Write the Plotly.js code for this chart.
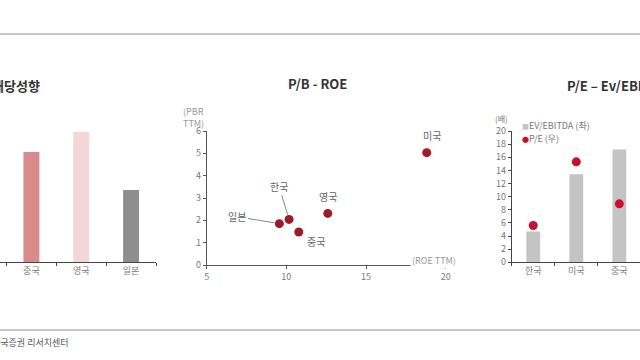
<!DOCTYPE html>
<html>
<head>
<meta charset="utf-8">
<script src="https://cdn.plot.ly/plotly-3.0.1.min.js"></script>
<style>html,body{margin:0;padding:0;background:#fff;}#chart{width:640px;height:360px;}</style>
</head>
<body>
<div id="chart"></div>
<script>
// ---- data ----
const allCountries = ['한국', '미국', '중국', '영국', '일본'];

// Left panel: 배당성향 (only partly visible)
const payoutCats = ['중국', '영국', '일본'];
const payoutVals = [36.7, 43.3, 24.0];
const payoutColors = ['#d98b8c', '#f3d6d6', '#8e8e8e'];

// Middle panel: P/B - ROE
const pbCountries = ['일본', '한국', '중국', '영국', '미국'];
const roeTTM = [9.56, 10.17, 10.78, 12.6, 18.81];
const pbrTTM = [1.85, 2.04, 1.48, 2.31, 5.03];

// Right panel: P/E - EV/EBITDA (only partly visible)
const valCats = ['한국', '미국', '중국'];
const evEbitda = [4.7, 13.4, 17.2];
const peVals = [5.6, 15.3, 8.9];

const W = 640, H = 360;
const px = v => v / W;
const py = v => 1 - v / H;

const gray = '#777';
const fontFam = '"Noto Sans CJK KR", "Noto Sans", sans-serif';

const traces = [
  {type: 'bar', x: payoutCats, y: payoutVals, marker: {color: payoutColors}, width: 0.32,
   xaxis: 'x', yaxis: 'y', showlegend: false, hoverinfo: 'x+y'},
  {type: 'scatter', mode: 'markers', x: roeTTM, y: pbrTTM, text: pbCountries,
   marker: {color: '#9e1c26', size: 9}, xaxis: 'x2', yaxis: 'y2', showlegend: false},
  {type: 'bar', name: 'EV/EBITDA (좌)', x: valCats, y: evEbitda, marker: {color: '#c4c4c4'}, width: 0.32,
   xaxis: 'x3', yaxis: 'y3', showlegend: false},
  {type: 'scatter', mode: 'markers', name: 'P/E (우)', x: valCats, y: peVals,
   marker: {color: '#c8102e', size: 9}, xaxis: 'x3', yaxis: 'y4', showlegend: false}
];

const tickFont = {family: fontFam, size: 9, color: gray};
const catAxis = {
  type: 'category', categoryorder: 'array', categoryarray: allCountries,
  showline: true, linecolor: '#444', linewidth: 1, ticks: 'outside', ticklen: 3, tickcolor: '#444',
  tickson: 'boundaries', showgrid: false, zeroline: false, tickfont: tickFont, fixedrange: true
};

// label annotations for scatter
const labelOffsets = {
  '일본': {arrow: true, ax: -42, ay: -7},
  '한국': {arrow: true, ax: -10, ay: -33},
  '중국': {xshift: 17, yshift: -10},
  '영국': {yshift: 17},
  '미국': {xshift: 5, yshift: 17}
};
const annotations = [];
pbCountries.forEach((c, i) => {
  const o = labelOffsets[c];
  const a = {xref: 'x2', yref: 'y2', x: roeTTM[i], y: pbrTTM[i], text: c,
    font: {family: fontFam, size: 10, color: '#666'}};
  if (o.arrow) {
    Object.assign(a, {showarrow: true, ax: o.ax, ay: o.ay, arrowhead: 0, arrowwidth: 1,
      arrowcolor: '#888', standoff: 5});
  } else {
    Object.assign(a, {showarrow: false, xshift: o.xshift || 0, yshift: o.yshift || 0});
  }
  annotations.push(a);
});

// titles
annotations.push(
  {xref: 'paper', yref: 'paper', x: px(42), y: py(85), xanchor: 'right', yanchor: 'middle', showarrow: false,
   text: '<b>배당성향</b>', font: {family: fontFam, size: 13, color: '#333'}},
  {xref: 'paper', yref: 'paper', x: px(317), y: py(83), xanchor: 'center', yanchor: 'middle', showarrow: false,
   text: '<b>P/B - ROE</b>', font: {family: fontFam, size: 13, color: '#333'}},
  {xref: 'paper', yref: 'paper', x: px(565), y: py(85), xanchor: 'left', yanchor: 'middle', showarrow: false,
   text: '<b>P/E – Ev/EBITDA</b>', font: {family: fontFam, size: 13, color: '#333'}},
  // axis unit labels
  {xref: 'paper', yref: 'paper', x: px(206), y: py(118), xanchor: 'right', yanchor: 'middle', showarrow: false,
   text: '(PBR<br>TTM)', align: 'left', font: {family: fontFam, size: 9, color: '#999'}},
  {xref: 'paper', yref: 'paper', x: px(458), y: py(260), xanchor: 'right', yanchor: 'middle', showarrow: false,
   text: '(ROE TTM)', bgcolor: '#fff', font: {family: fontFam, size: 9, color: '#999'}},
  {xref: 'paper', yref: 'paper', x: px(510), y: py(119), xanchor: 'right', yanchor: 'middle', showarrow: false,
   text: '(배)', font: {family: fontFam, size: 8, color: gray}},
  // legend for right panel
  {xref: 'paper', yref: 'paper', x: px(520), y: py(125), xanchor: 'left', yanchor: 'middle', showarrow: false,
   text: '<span style="color:#c4c4c4;font-size:7px">■</span>EV/EBITDA (좌)', font: {family: fontFam, size: 9, color: gray}},
  {xref: 'paper', yref: 'paper', x: px(520), y: py(138), xanchor: 'left', yanchor: 'middle', showarrow: false,
   text: '<span style="color:#c8102e;font-size:7px">●</span>P/E (우)', font: {family: fontFam, size: 9, color: gray}},
  // source note
  {xref: 'paper', yref: 'paper', x: px(-10), y: py(342), xanchor: 'left', yanchor: 'middle', showarrow: false,
   text: '한국증권 리서치센터', font: {family: fontFam, size: 9, color: '#555'}}
);

const layout = {
  width: W, height: H,
  margin: {l: 0, r: 0, t: 0, b: 0},
  paper_bgcolor: '#fff', plot_bgcolor: 'rgba(0,0,0,0)',
  showlegend: false,
  font: {family: fontFam},
  xaxis: Object.assign({}, catAxis, {domain: [0, px(156)], range: [1.37, 4.5], anchor: 'y'}),
  yaxis: {domain: [py(262), py(112)], range: [0, 50], visible: false, anchor: 'x', fixedrange: true},
  xaxis2: {domain: [px(206.7), px(445.7)], range: [5, 20], dtick: 5, tick0: 5, anchor: 'y2',
    showline: true, linecolor: '#555', ticks: 'outside', ticklen: 3, tickcolor: '#555',
    showgrid: false, zeroline: false, tickfont: tickFont, fixedrange: true},
  yaxis2: {domain: [py(265), py(131)], range: [0, 6], dtick: 1, anchor: 'x2',
    showline: true, linecolor: '#555', ticks: 'outside', ticklen: 3, tickcolor: '#555',
    showgrid: false, zeroline: false, tickfont: tickFont, fixedrange: true},
  xaxis3: Object.assign({}, catAxis, {domain: [px(511.7), 1], range: [-0.5, 2.48], anchor: 'y3'}),
  yaxis3: {domain: [py(262.3), py(131)], range: [0, 20], dtick: 2, anchor: 'x3',
    showline: true, linecolor: '#444', ticks: 'outside', ticklen: 3, tickcolor: '#444',
    showgrid: false, zeroline: false, tickfont: tickFont, fixedrange: true},
  yaxis4: {overlaying: 'y3', range: [0, 20], visible: false, anchor: 'x3', fixedrange: true},
  shapes: [
    {type: 'line', xref: 'paper', yref: 'paper', x0: 0, x1: 1, y0: py(34), y1: py(34),
     line: {color: '#c8c8c8', width: 2}},
    {type: 'line', xref: 'paper', yref: 'paper', x0: 0, x1: 1, y0: py(330), y1: py(330),
     line: {color: '#c8c8c8', width: 2}}
  ],
  annotations: annotations
};

Plotly.newPlot('chart', traces, layout, {displayModeBar: false, staticPlot: true});
</script>
</body>
</html>
